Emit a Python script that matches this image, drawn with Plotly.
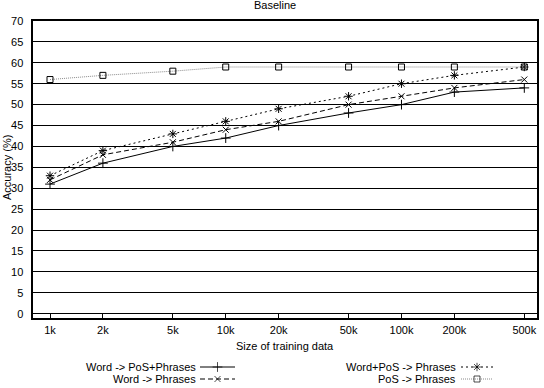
import plotly.graph_objects as go
import math

# ---- data ----
sizes = [1000, 2000, 5000, 10000, 20000, 50000, 100000, 200000, 500000]
size_labels = ["1k", "2k", "5k", "10k", "20k", "50k", "100k", "200k", "500k"]
word_pos_phrases = [31, 36, 40, 42, 45, 48, 50, 53, 54]
word_phrases = [32, 38, 41, 44, 46, 50, 52, 54, 56]
wordpos_phrases = [33, 39, 43, 46, 49, 52, 55, 57, 59]
pos_phrases = [56, 57, 58, 59, 59, 59, 59, 59, 59]
y_ticks = list(range(0, 75, 5))

W, H = 544, 388
FONT = "Liberation Sans, Arial, sans-serif"

# plot box in pixels
L, R, T, B = 33.3, 537.3, 21, 318.3

styles = [
    dict(name="Word -> PoS+Phrases", y=word_pos_phrases, color="black", dash="solid",
         symbol="cross-thin-open", size=7),
    dict(name="Word -> Phrases", y=word_phrases, color="black", dash="5px,3px",
         symbol="x-thin-open", size=6),
    dict(name="Word+PoS -> Phrases", y=wordpos_phrases, color="black", dash="2px,3px",
         symbol="asterisk-open", size=7),
    dict(name="PoS -> Phrases", y=pos_phrases, color="#8a8a8a", dash="1px,1px",
         symbol="square-open", size=6),
]

fig = go.Figure()
for s in styles:
    fig.add_trace(go.Scatter(
        x=sizes, y=s["y"], mode="lines+markers", name=s["name"],
        line=dict(color=s["color"], width=1, dash=s["dash"]),
        marker=dict(symbol=s["symbol"], size=s["size"], color="black",
                    line=dict(color="black", width=1)),
        xaxis="x", yaxis="y", showlegend=False, cliponaxis=False,
    ))

# custom gnuplot-style legend (text left, sample right)
legend_pos = [
    (198, 388 - 367, 200, 235),
    (198, 388 - 379, 200, 235),
    (458, 388 - 367, 461, 493),
    (458, 388 - 379, 461, 493),
]
annotations = []
for s, (tx, ty, x0, x1) in zip(styles, legend_pos):
    fig.add_trace(go.Scatter(
        x=[x0, (x0 + x1) / 2, x1], y=[ty, ty, ty], mode="lines+markers",
        line=dict(color=s["color"], width=1, dash=s["dash"]),
        marker=dict(symbol=s["symbol"], size=[0, s["size"], 0], color="black",
                    line=dict(color="black", width=1)),
        xaxis="x2", yaxis="y2", showlegend=False, hoverinfo="skip",
    ))
    annotations.append(dict(x=tx, y=ty, xref="x2", yref="y2", text=s["name"],
                            showarrow=False, xanchor="right", yanchor="middle",
                            font=dict(family=FONT, size=11, color="black")))

annotations += [
    dict(x=275, y=H - 5, xref="x2", yref="y2", text="Baseline", showarrow=False,
         xanchor="center", yanchor="middle", font=dict(family=FONT, size=11, color="black")),
    dict(x=(L + R) / 2, y=H - 346, xref="x2", yref="y2", text="Size of training data",
         showarrow=False, xanchor="center", yanchor="middle",
         font=dict(family=FONT, size=11, color="black")),
    dict(x=7, y=H - 168, xref="x2", yref="y2", text="Accuracy (%)", textangle=-90,
         showarrow=False, xanchor="center", yanchor="middle",
         font=dict(family=FONT, size=11, color="black")),
]

xr0 = math.log10(1000) - (50 - L) / 175.7
xr1 = math.log10(500000) + (R - 524.3) / 175.7

fig.update_layout(
    width=W, height=H,
    margin=dict(l=0, r=0, t=0, b=0, autoexpand=False),
    paper_bgcolor="white", plot_bgcolor="rgba(0,0,0,0)",
    font=dict(family=FONT, size=11, color="black"),
    xaxis=dict(
        type="log", range=[xr0, xr1], domain=[L / W, R / W],
        tickvals=sizes, ticktext=size_labels,
        ticks="inside", ticklen=5, tickcolor="black", tickwidth=1,
        showline=True, linecolor="black", linewidth=1.5, mirror=True,
        showgrid=False, zeroline=False, ticklabelstandoff=1,
        tickfont=dict(family=FONT, size=11, color="black"),
    ),
    yaxis=dict(
        range=[-1.1, 70], domain=[(H - B) / H, (H - T) / H],
        tickvals=y_ticks, ticks="", showline=True, linecolor="black", linewidth=1.5,
        mirror=True, showgrid=True, gridcolor="black", gridwidth=1, zeroline=False,
        ticklabelstandoff=6, tickfont=dict(family=FONT, size=11, color="black"),
    ),
    xaxis2=dict(range=[0, W], domain=[0, 1], visible=False, fixedrange=True),
    yaxis2=dict(range=[0, H], domain=[0, 1], visible=False, fixedrange=True,
                anchor="x2"),
    annotations=annotations,
    showlegend=False,
)
fig.write_html("out.html")
